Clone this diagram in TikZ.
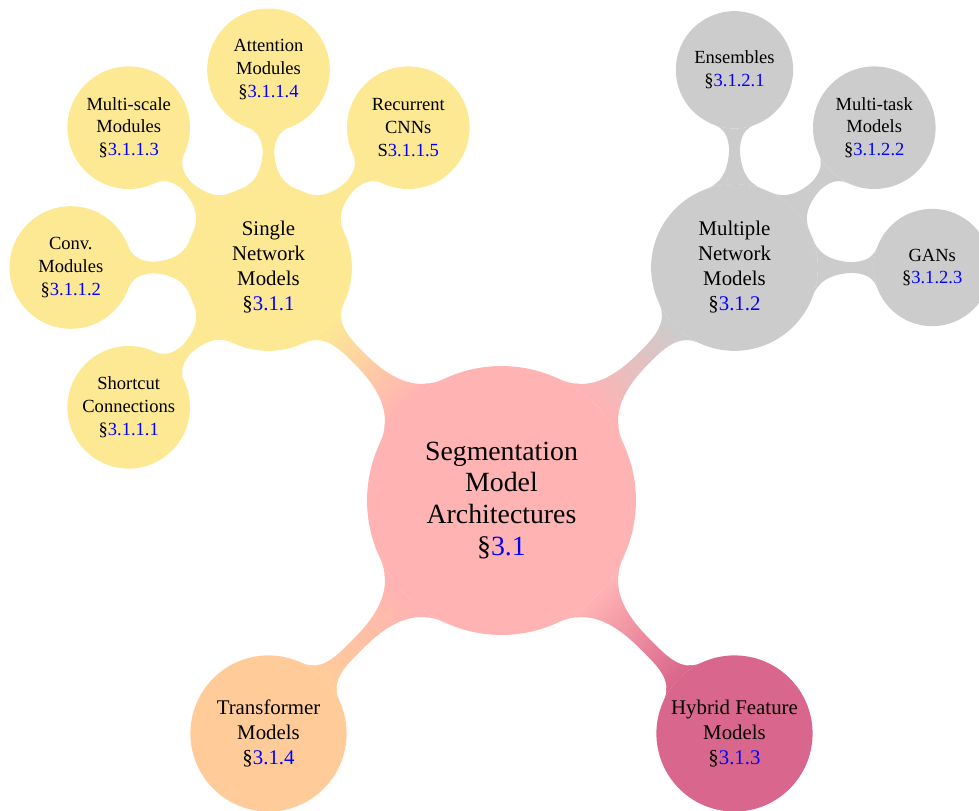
\documentclass[tikz,border=0pt]{standalone}
\usepackage{fontspec}
\setmainfont{Liberation Serif}
\usetikzlibrary{mindmap,calc}
\definecolor{rootcol}{RGB}{255,179,179}
\definecolor{yel}{RGB}{253,232,148}
\definecolor{gry}{RGB}{204,204,204}
\definecolor{org}{RGB}{255,204,153}
\definecolor{pur}{RGB}{217,102,140}
\newcommand{\secnum}[1]{§\textcolor{blue}{#1}}
\tikzset{
  cpt/.style={circle, fill=#1, draw=none, inner sep=0pt, outer sep=0pt, align=center, text=black, text width={}},
  rootc/.style={cpt=rootcol, minimum size=4.08cm, font=\fontsize{12}{13.8}\selectfont},
  lvone/.style={cpt=#1, minimum size=2.53cm, font=\fontsize{9}{10.8}\selectfont},
  lvonesmall/.style={cpt=#1, minimum size=2.37cm, font=\fontsize{9}{10.8}\selectfont},
  lvtwo/.style={cpt=#1, minimum size=1.86cm, font=\fontsize{8}{9.9}\selectfont},
  lvtwosmall/.style={cpt=#1, minimum size=1.78cm, font=\fontsize{8}{9.9}\selectfont},
  bar/.style args={#1 to #2}{circle connection bar switch color=from (#1) to (#2)}
}
\begin{document}
\begin{tikzpicture}[mindmap]
\useasboundingbox (-7.61,-4.697) rectangle (7.246,7.595);
% root and level 1
\node[rootc] (root) at (0,0) {Segmentation\\Model\\Architectures\\\secnum{3.1}};
\node[lvone=yel] (single) at (135:5cm) {Single\\Network\\Models\\\secnum{3.1.1}};
\node[lvone=gry] (multiple) at (45:5cm) {Multiple\\Network\\Models\\\secnum{3.1.2}};
\node[lvonesmall=org] (trans) at (225:5cm) {Transformer\\Models\\\secnum{3.1.4}};
\node[lvonesmall=pur] (hybrid) at (315:5cm) {Hybrid Feature\\Models\\\secnum{3.1.3}};
% level 2 of single
\node[lvtwo=yel] (attn) at ($(single)+(90:3cm)$) {Attention\\Modules\\\secnum{3.1.1.4}};
\node[lvtwo=yel] (recur) at ($(single)+(45:3cm)$) {Recurrent\\CNNs\\S\textcolor{blue}{3.1.1.5}};
\node[lvtwo=yel] (mscale) at ($(single)+(135:3cm)$) {Multi-scale\\Modules\\\secnum{3.1.1.3}};
\node[lvtwo=yel] (conv) at ($(single)+(180:3cm)$) {Conv.\\Modules\\\secnum{3.1.1.2}};
\node[lvtwo=yel] (short) at ($(single)+(225:3cm)$) {Shortcut\\Connections\\\secnum{3.1.1.1}};
% level 2 of multiple
\node[lvtwosmall=gry] (ens) at ($(multiple)+(90:3cm)$) {Ensembles\\\secnum{3.1.2.1}};
\node[lvtwo=gry] (mtask) at ($(multiple)+(45:3cm)$) {Multi-task\\Models\\\secnum{3.1.2.2}};
\node[lvtwosmall=gry] (gans) at ($(multiple)+(0:3cm)$) {GANs\\\secnum{3.1.2.3}};
% connectors
\path (root) to[bar=rootcol to yel] (single);
\path (root) to[bar=rootcol to gry] (multiple);
\path (root) to[bar=rootcol to org] (trans);
\path (root) to[bar=rootcol to pur] (hybrid);
\path (single) to[bar=yel to yel] (attn);
\path (single) to[bar=yel to yel] (recur);
\path (single) to[bar=yel to yel] (mscale);
\path (single) to[bar=yel to yel] (conv);
\path (single) to[bar=yel to yel] (short);
\path (multiple) to[bar=gry to gry] (ens);
\path (multiple) to[bar=gry to gry] (mtask);
\path (multiple) to[bar=gry to gry] (gans);
\end{tikzpicture}
\end{document}
